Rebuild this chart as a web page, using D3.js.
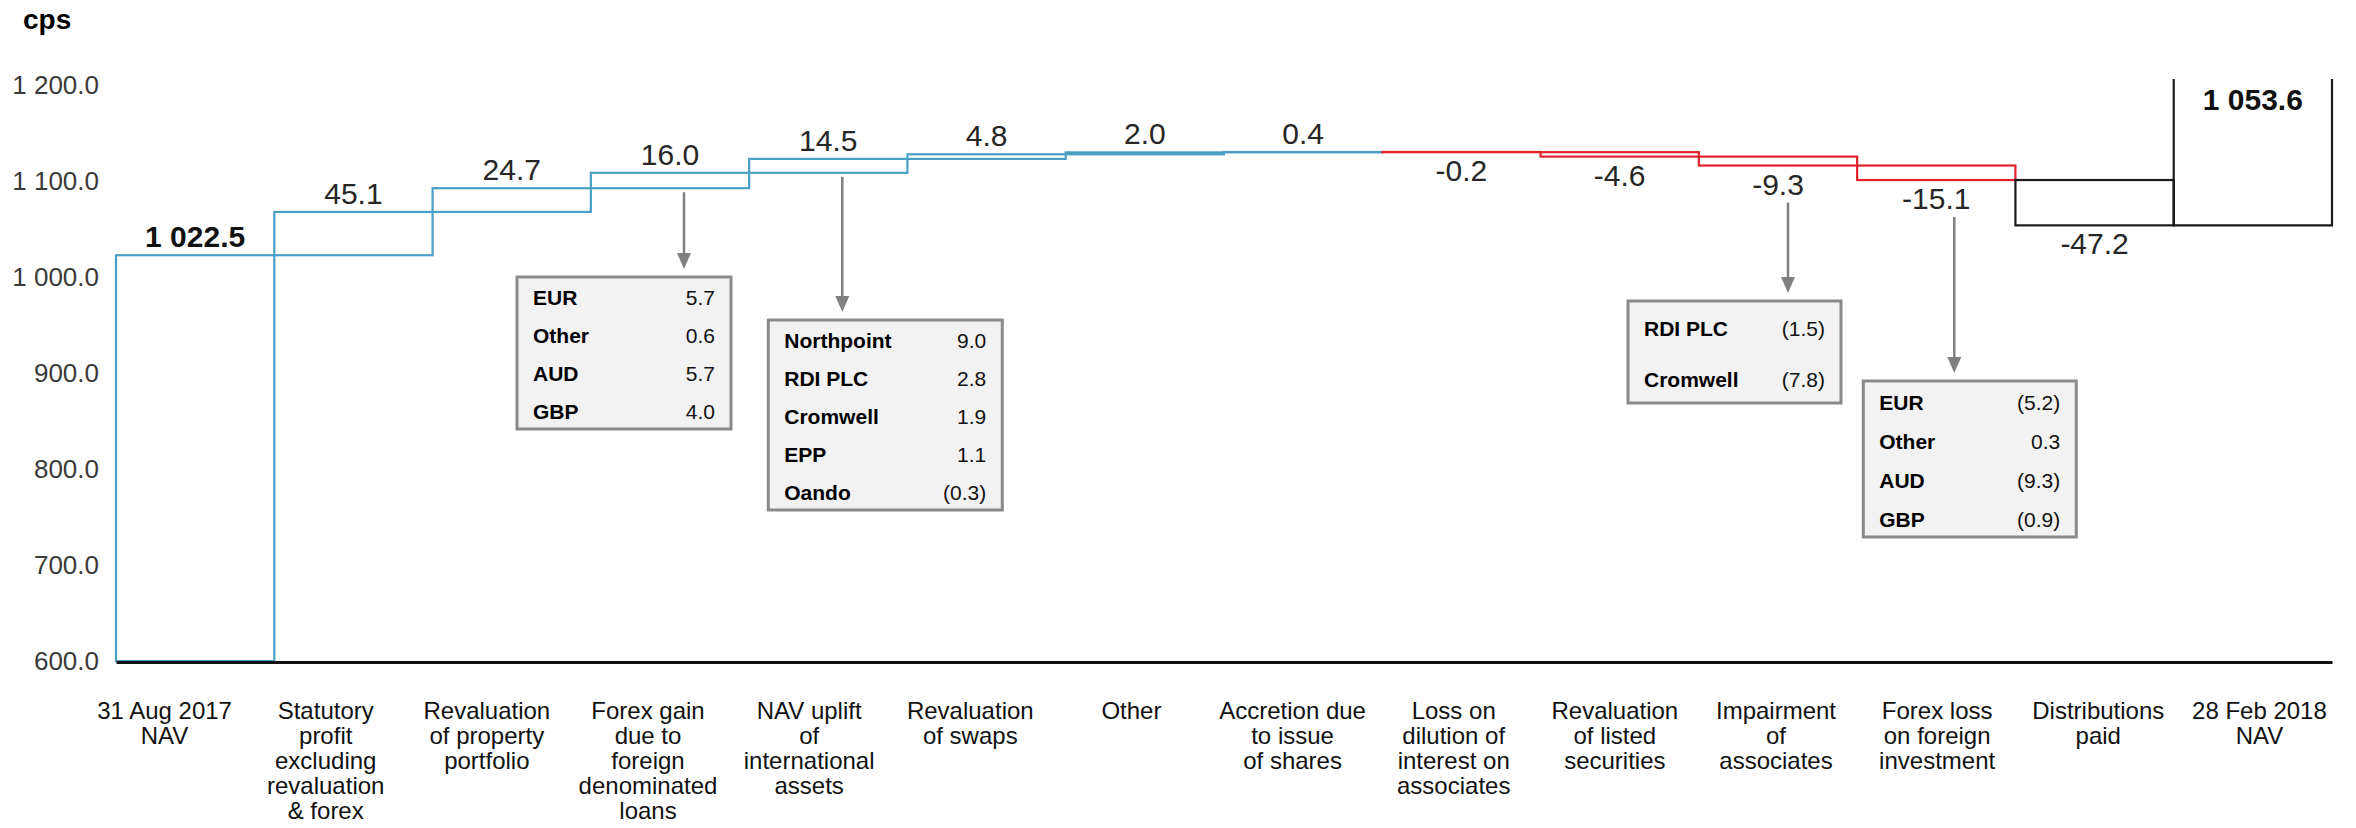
<!DOCTYPE html>
<html>
<head>
<meta charset="utf-8">
<script src="https://cdn.jsdelivr.net/npm/d3@7"></script>
<style>
  html, body { margin: 0; padding: 0; background: #ffffff; }
  svg { display: block; font-family: "Liberation Sans", Arial, sans-serif; }
</style>
</head>
<body>
<svg id="chart" width="2356" height="828"></svg>
<script>
// NAV bridge, cents per share (cps)
const categories = [
  ["31 Aug 2017", "NAV"],
  ["Statutory", "profit", "excluding", "revaluation", "& forex"],
  ["Revaluation", "of property", "portfolio"],
  ["Forex gain", "due to", "foreign", "denominated", "loans"],
  ["NAV uplift", "of", "international", "assets"],
  ["Revaluation", "of swaps"],
  ["Other"],
  ["Accretion due", "to issue", "of shares"],
  ["Loss on", "dilution of", "interest on", "associates"],
  ["Revaluation", "of listed", "securities"],
  ["Impairment", "of", "associates"],
  ["Forex loss", "on foreign", "investment"],
  ["Distributions", "paid"],
  ["28 Feb 2018", "NAV"]
];
const values = [1022.5, 45.1, 24.7, 16.0, 14.5, 4.8, 2.0, 0.4, -0.2, -4.6, -9.3, -15.1, -47.2, 1053.6];
// "start" = opening total, "up"/"down" = movements, "paid" = distribution, "end" = closing total
const kinds = ["start", "up", "up", "up", "up", "up", "up", "up", "down", "down", "down", "down", "paid", "end"];
const yTicks = [600, 700, 800, 900, 1000, 1100, 1200];

// Breakdown tables hanging under selected movements
const forexGainItems = ["EUR", "Other", "AUD", "GBP"];
const forexGainValues = [5.7, 0.6, 5.7, 4.0];
const upliftItems = ["Northpoint", "RDI PLC", "Cromwell", "EPP", "Oando"];
const upliftValues = [9.0, 2.8, 1.9, 1.1, -0.3];
const impairmentItems = ["RDI PLC", "Cromwell"];
const impairmentValues = [-1.5, -7.8];
const forexLossItems = ["EUR", "Other", "AUD", "GBP"];
const forexLossValues = [-5.2, 0.3, -9.3, -0.9];

const colours = { start: "#4a9fc4", up: "#4a9fc4", down: "#e3222b", paid: "#1a1a1a", end: "#1a1a1a" };

const svg = d3.select("#chart");

const x = d3.scaleBand().domain(d3.range(values.length)).range([116, 2332]).padding(0);
const xLabel = d3.scaleBand().domain(d3.range(values.length)).range([84, 2340]).padding(0);
const y = d3.scaleLinear().domain([600, 1206]).range([661, 79]);

const loc = d3.formatLocale({ decimal: ".", thousands: "\u00a0", grouping: [3], currency: ["", ""], minus: "-" });
const fmt = loc.format(",.1f");
const fmtDelta = loc.format(".1f");
const fmtParen = v => v < 0 ? "(" + fmtDelta(-v) + ")" : fmtDelta(v);

// waterfall segments
let running = 0;
const bars = values.map((v, i) => {
  const k = kinds[i];
  let lo, hi;
  if (k === "start") { lo = 600; hi = v; running = v; }
  else if (k === "end") { lo = v; hi = y.domain()[1]; }
  else { lo = running; hi = running + v; running = hi; }
  return { i, v, k, lo, hi };
});

// y axis labels
const yAxis = d3.axisLeft(y).tickValues(yTicks).tickSize(0).tickPadding(5)
  .tickFormat(d => fmt(d));
const gy = svg.append("g").attr("transform", "translate(104,0)").call(yAxis);
gy.select(".domain").remove();
gy.selectAll("text").attr("font-size", 26).attr("fill", "#3a3a3a")
  .attr("font-family", "Liberation Sans, Arial, sans-serif");

// unit label
svg.append("text").attr("x", 23).attr("y", 29).attr("font-size", 28).attr("font-weight", "bold")
  .attr("fill", "#000").text("cps");

// outlined waterfall bars
const gb = svg.append("g");
bars.forEach(b => {
  const x0 = x(b.i), x1 = x(b.i) + x.bandwidth();
  if (b.k === "end") {
    gb.append("path")
      .attr("d", `M${x0},${y(b.hi)}V${y(b.lo)}H${x1}V${y(b.hi)}`)
      .attr("fill", "none").attr("stroke", colours[b.k]).attr("stroke-width", 2.2);
  } else {
    const top = Math.max(b.lo, b.hi), bot = Math.min(b.lo, b.hi);
    gb.append("rect")
      .attr("x", x0).attr("width", x.bandwidth())
      .attr("y", y(top)).attr("height", Math.max(0, y(bot) - y(top)))
      .attr("fill", "none").attr("stroke", colours[b.k]).attr("stroke-width", 2.2);
  }
});

// category axis line
const xAxis = d3.axisBottom(x).tickSize(0).tickSizeOuter(0).tickFormat("");
const gx = svg.append("g").attr("transform", "translate(0,662)").call(xAxis);
gx.select(".domain").attr("stroke", "#111").attr("stroke-width", 3);

// value labels
const gl = svg.append("g").attr("font-size", 30).attr("fill", "#222").attr("text-anchor", "middle");
bars.forEach(b => {
  const cx = x(b.i) + x.bandwidth() / 2;
  let ty, bold = false;
  if (b.k === "start") { ty = y(b.hi) - 8; bold = true; }
  else if (b.k === "end") { ty = y(b.hi) + 31; bold = true; }
  else if (b.v >= 0) { ty = y(b.hi) - 8; }
  else { ty = y(b.hi) + 29; }
  gl.append("text").attr("x", cx).attr("y", ty)
    .attr("font-weight", bold ? "bold" : "normal")
    .attr("fill", bold ? "#111" : "#262626")
    .text(b.k === "start" || b.k === "end" ? fmt(b.v) : fmtDelta(b.v));
});

// category labels
const gc = svg.append("g").attr("font-size", 24).attr("fill", "#111").attr("text-anchor", "middle");
categories.forEach((lines, i) => {
  const cx = xLabel(i) + xLabel.bandwidth() / 2;
  const t = gc.append("text").attr("x", cx).attr("y", 719);
  lines.forEach((ln, j) => {
    t.append("tspan").attr("x", cx).attr("dy", j === 0 ? 0 : 25).text(ln);
  });
});

// breakdown callouts: arrow from the movement down to a grey table
const callouts = [
  { bar: 3, items: forexGainItems, vals: forexGainValues, dx: 14, left: -167, width: 214, top: 277, rowH: 38 },
  { bar: 4, items: upliftItems, vals: upliftValues, dx: 14, left: -74, width: 234, top: 320, rowH: 38 },
  { bar: 10, items: impairmentItems, vals: impairmentValues, dx: 10, left: -160, width: 213, top: 301, rowH: 51 },
  { bar: 11, items: forexLossItems, vals: forexLossValues, dx: 18, left: -91, width: 213, top: 381, rowH: 39 }
];
const gco = svg.append("g");
callouts.forEach(c => {
  const b = bars[c.bar];
  const ax = x(c.bar) + x.bandwidth() / 2 + c.dx;
  const startY = b.v >= 0 ? y(b.lo) + 4 : y(b.hi) + 37;
  const tipY = c.top - 8;
  gco.append("line").attr("x1", ax).attr("x2", ax).attr("y1", startY).attr("y2", tipY - 14)
    .attr("stroke", "#808080").attr("stroke-width", 2.5);
  gco.append("path").attr("d", `M${ax - 7},${tipY - 16}L${ax + 7},${tipY - 16}L${ax},${tipY}Z`)
    .attr("fill", "#808080");
  const bx = ax + c.left;
  const h = c.rowH * c.items.length;
  gco.append("rect").attr("x", bx).attr("y", c.top).attr("width", c.width).attr("height", h)
    .attr("fill", "#f2f2f2").attr("stroke", "#8a8a8a").attr("stroke-width", 3);
  c.items.forEach((name, j) => {
    const cy = c.top + c.rowH * (j + 0.5) + 2;
    gco.append("text").attr("x", bx + 16).attr("y", cy).attr("dy", "0.35em")
      .attr("font-size", 21).attr("font-weight", "bold").attr("fill", "#000").text(name);
    gco.append("text").attr("x", bx + c.width - 16).attr("y", cy).attr("dy", "0.35em")
      .attr("text-anchor", "end").attr("font-size", 21).attr("fill", "#111").text(fmtParen(c.vals[j]));
  });
});
</script>
</body>
</html>
